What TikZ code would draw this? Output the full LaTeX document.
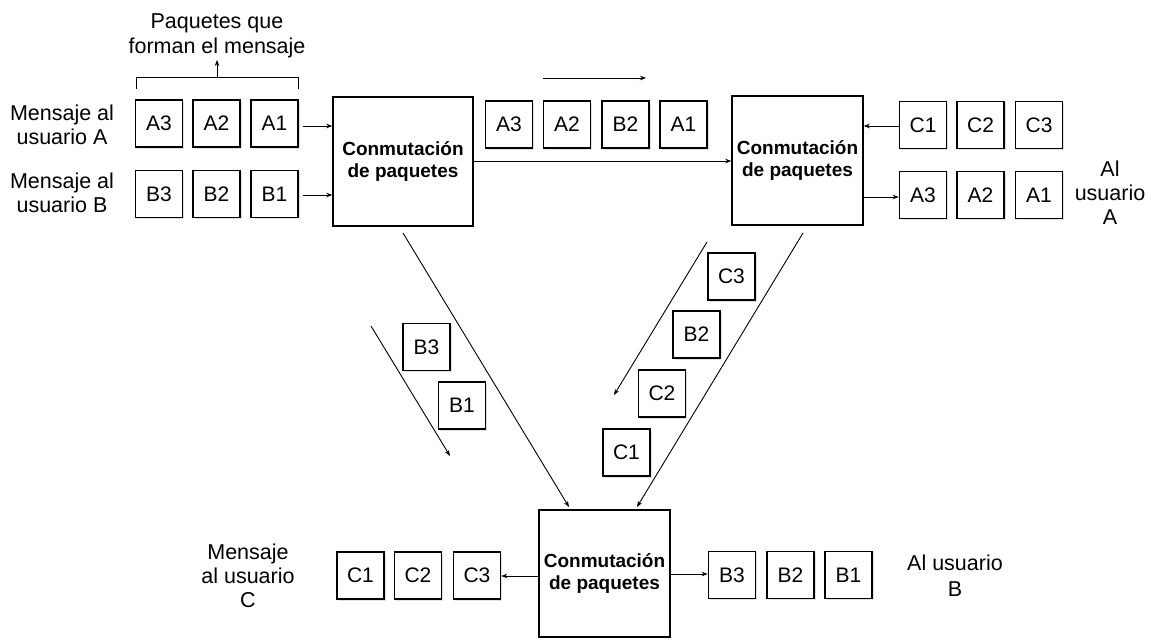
\documentclass[tikz,border=0pt]{standalone}
\usepackage{fontspec}
\setmainfont{Liberation Sans}
\usetikzlibrary{arrows.meta,shadows}
\begin{document}
\begin{tikzpicture}[x=1pt,y=-1pt,
  lbl/.style={align=center,font=\fontsize{21.5}{24}\selectfont,inner sep=0pt},
  pkt/.style={draw,line width=1.5pt,minimum width=47pt,minimum height=47pt,inner sep=0pt,
    font=\fontsize{21}{24}\selectfont,fill=white,
    drop shadow={shadow xshift=1.5pt,shadow yshift=-1.5pt,fill=black!30,opacity=0.4}},
  switchbox/.style={draw,line width=1.5pt,inner sep=0pt,align=center,
    font=\fontsize{19}{22}\bfseries\selectfont},
  arr/.style={line width=0.9pt,-{Stealth[length=6pt,width=4.5pt]}},
  ln/.style={line width=0.9pt}]
\useasboundingbox (0,0) rectangle (1151,640);

% packet switches
\node[switchbox,minimum width=140pt,minimum height=129pt] (sw1) at (403,161.5) {Conmutación\\de paquetes};
\node[switchbox,minimum width=131pt,minimum height=129pt] (sw2) at (797.5,160.5) {Conmutación\\de paquetes};
\node[switchbox,minimum width=131pt,minimum height=127pt] (sw3) at (604.5,573.5) {Conmutación\\de paquetes};

% messages entering the first switch
\node[pkt] (inA3) at (159,123.5) {A3};
\node[pkt] (inA2) at (216.5,123.5) {A2};
\node[pkt] (inA1) at (274.5,123.5) {A1};
\node[pkt] (inB3) at (159,194) {B3};
\node[pkt] (inB2) at (216.5,194) {B2};
\node[pkt] (inB1) at (274.5,194) {B1};

\node[lbl] (lblA) at (62,125) {Mensaje al\\usuario A};
\node[lbl] (lblB) at (62,193) {Mensaje al\\usuario B};
\node[lbl,font=\fontsize{21.5}{25}\selectfont] (lblPk) at (217,36) {Paquetes que\\forman el mensaje};

% bracket over the packets of message A
\coordinate (brL) at (136,89);
\coordinate (brR) at (298,89);
\coordinate (brM) at (217,77);
\draw[ln] (brL) -- (136,77) -- (298,77) -- (brR);
\draw[arr] (brM) -- (217,60);

\draw[arr,shorten <=4pt] (inA1.east |- 0,126) -- (sw1.west |- 0,126);
\draw[arr,shorten <=4pt] (inB1.east |- 0,195) -- (sw1.west |- 0,195);

% link between the first two switches
\node[pkt] (mA3) at (509,124.5) {A3};
\node[pkt] (mA2) at (567,124.5) {A2};
\node[pkt] (mB2) at (625.5,124.5) {B2};
\node[pkt] (mA1) at (683.5,124.5) {A1};
\draw[arr] (sw1.east |- 0,161) -- (sw2.west |- 0,161);
\coordinate (dirS) at (543,78);
\coordinate (dirE) at (646,78);
\draw[arr] (dirS) -- (dirE);

% right side of the second switch
\node[pkt] (rC1) at (923,125) {C1};
\node[pkt] (rC2) at (980.5,125) {C2};
\node[pkt] (rC3) at (1039,125) {C3};
\node[pkt] (rA3) at (923,195) {A3};
\node[pkt] (rA2) at (980.5,195) {A2};
\node[pkt] (rA1) at (1039,195) {A1};
\node[lbl] (lblAlA) at (1110,193) {Al\\usuario\\A};
\draw[arr] (rC1.west |- 0,126) -- (sw2.east |- 0,126);
\draw[arr] (sw2.east |- 0,197) -- (rA3.west |- 0,197);

% diagonal links towards the third switch
\coordinate (d1s) at (403,233);
\coordinate (d1e) at (569,507);
\coordinate (d2s) at (803,233);
\coordinate (d2e) at (637,507);
\draw[arr] (d1s) -- (d1e);
\draw[arr] (d2s) -- (d2e);

\node[pkt] (dB3) at (426.5,347) {B3};
\node[pkt] (dB1) at (462,405.5) {B1};
\coordinate (fBs) at (371,326);
\coordinate (fBe) at (450,456);
\draw[arr] (fBs) -- (fBe);

\node[pkt] (dC3) at (731.5,276.5) {C3};
\node[pkt] (dB2) at (696.5,334.5) {B2};
\node[pkt] (dC2) at (662,393.5) {C2};
\node[pkt] (dC1) at (626.5,452.5) {C1};
\coordinate (fCs) at (707,242);
\coordinate (fCe) at (614,395);
\draw[arr] (fCs) -- (fCe);

% outputs of the third switch
\node[pkt] (bC1) at (360.5,575.5) {C1};
\node[pkt] (bC2) at (418,575.5) {C2};
\node[pkt] (bC3) at (477,575.5) {C3};
\node[pkt] (bB3) at (732,575) {B3};
\node[pkt] (bB2) at (790.5,575) {B2};
\node[pkt] (bB1) at (848.5,575) {B1};
\node[lbl] (lblC) at (248,576) {Mensaje\\al usuario\\C};
\node[lbl,font=\fontsize{21.5}{26}\selectfont] (lblAlB) at (955,576) {Al usuario\\B};
\draw[arr] (sw3.west |- 0,576) -- (bC3.east |- 0,576);
\draw[arr] (sw3.east |- 0,574) -- (bB3.west |- 0,574);
\end{tikzpicture}
\end{document}
